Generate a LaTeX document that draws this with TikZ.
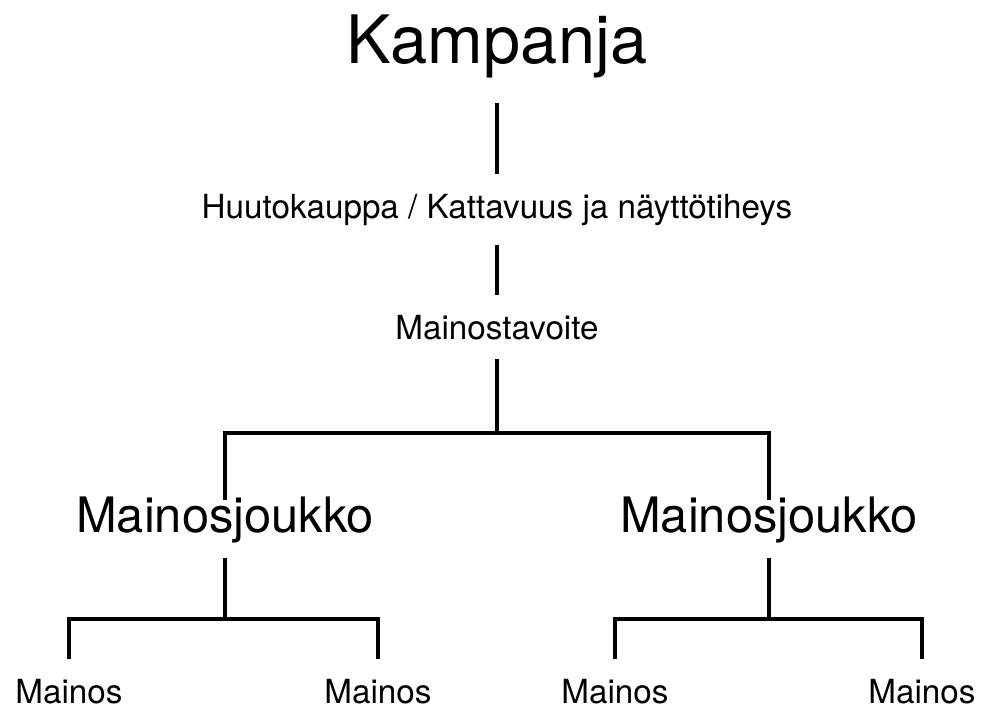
\documentclass[tikz,border=0pt]{standalone}
\usepackage{fontspec}
\setmainfont{TeX Gyre Heros}
\usepackage{tikz}
\usetikzlibrary{positioning,calc}

\begin{document}
\begin{tikzpicture}[
        x=0.02cm, y=-0.02cm,
        topLabel/.style={anchor=base, inner sep=0pt, outer ysep=14.7pt, font=\fontsize{38pt}{44pt}\selectfont},
        groupLabel/.style={anchor=base, inner sep=0pt, text height=0.96em, outer ysep=8.5pt, font=\fontsize{27.8pt}{32pt}\selectfont},
        smallLabel/.style={anchor=base, inner sep=0pt, outer ysep=11.3pt, font=\fontsize{18.9pt}{22pt}\selectfont},
        link/.style={line width=1.9pt, line join=miter}
    ]
        \useasboundingbox (0,0) rectangle (987,710);

        % Top of the tree
        \node[topLabel] (kamp) at (497, 63) {Kampanja};
        \node[smallLabel] (huuto) at (497, 218) {Huutokauppa / Kattavuus ja näyttötiheys};
        \node[smallLabel] (mvoite) at (497, 339) {Mainostavoite};

        % Ad groups
        \node[groupLabel] (msjL) at (225, 532) {Mainosjoukko};
        \node[groupLabel] (msjR) at (769, 532) {Mainosjoukko};

        % Ads
        \node[smallLabel] (adA) at (69, 703) {Mainos};
        \node[smallLabel] (adB) at (378, 703) {Mainos};
        \node[smallLabel] (adC) at (615, 703) {Mainos};
        \node[smallLabel] (adD) at (922, 703) {Mainos};

        \coordinate (split) at (497, 433);
        \coordinate (splitL) at (225, 619);
        \coordinate (splitR) at (769, 619);

        \draw[link] (kamp) -- (huuto);
        \draw[link] (huuto) -- (mvoite);
        \draw[link] (mvoite) -- (split);
        \draw[link] (msjL) |- (split) -| (msjR);

        \draw[link] (msjL) -- (splitL);
        \draw[link] (adA) |- (splitL) -| (adB);
        \draw[link] (msjR) -- (splitR);
        \draw[link] (adC) |- (splitR) -| (adD);
    \end{tikzpicture}
\end{document}
